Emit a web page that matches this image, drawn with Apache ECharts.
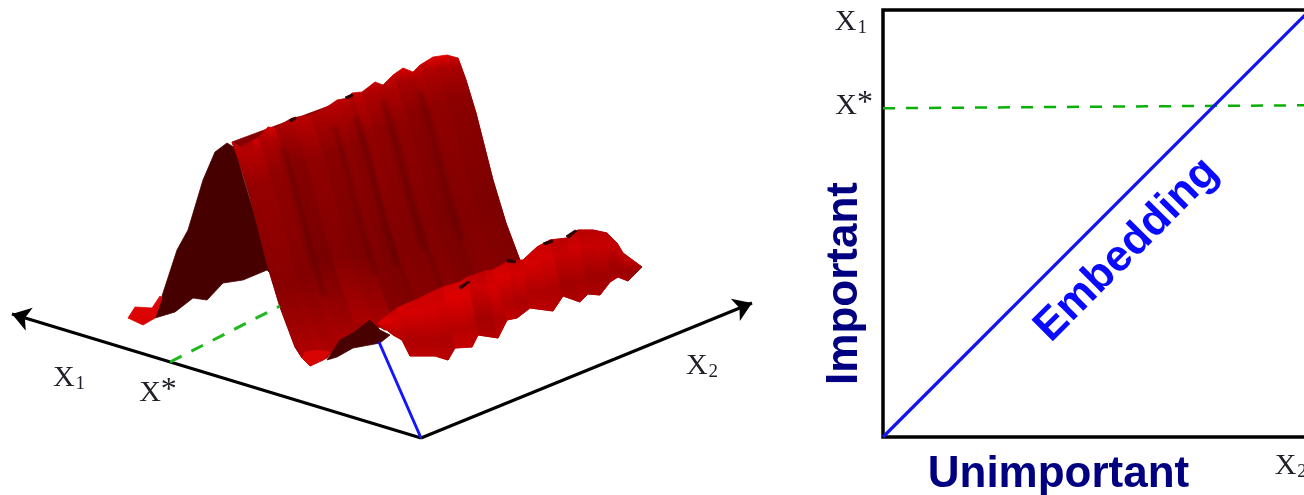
<!DOCTYPE html>
<html><head><meta charset="utf-8">
<style>html,body{margin:0;padding:0;background:#fff;overflow:hidden}#c{width:1304px;height:495px;filter:blur(0.55px)}</style>
<script src="https://cdn.jsdelivr.net/npm/echarts@6/dist/echarts.min.js"></script>
</head><body><div id="c"></div>
<script>
// Right panel values (unit square)
const embedding = [[0, 0], [1, 1]];
const xStarLevel = [[0, 0.77], [1, 0.777]];
const yTickValues = [0.775, 0.972];
const yTickLabels = ['{x|X}{sup|*}', '{x|X}{subr|1}'];
const xTickValues = [0.955];
const xTickLabels = ['{x|X}{sub|2}'];
const embeddingAnchor = [[0.571, 0.438]];
// Left panel, values
const axisX1 = [[421, 438], [12, 314]];
const axisX2 = [[421, 438], [752, 303]];
const blueDrop = [[421, 438], [379, 342]];
const greenDrop = [[170, 362], [280, 306]];
const floorLabels = [[69, 378, '{x|X}{sub|1}'], [158, 393, '{x|X}{sup|*}'], [702, 366, '{x|X}{sub|2}']];
// Ridge: crest line, rib profile below the crest, rib foot, brightness
const crest = [[232,142],[240,147],[252,141],[258,138],[268,127],[275,128],[292,118],[310,115],[327,107],[337,100],[348,98],[352,93],[362,92],[375,82],[383,85],[393,75],[403,68],[413,72],[420,65],[433,57],[447,55],[458,58]];
const ribProfile = [[0,0],[8,22],[18,55],[35,122],[48,165],[63,205]];
const ribFoot = [[302,358],[310,366],[323,360],[327,358],[340,342],[353,335],[370,322],[385,330],[400,330],[412,325],[423,323],[427,318],[437,317],[450,307],[458,310],[468,300],[478,293],[488,297],[495,290],[508,282],[515,280],[523,270]];
const ribShade = [140,142,142,136,134,126,136,130,134,130,126,136,134,125,135,130,126,134,136,132,130];
const ribGlow = [60,30,70,70,90,60,50,50,60,60,60,60,60,70,70,90,90,80,90,100,80];
const foldRibs = [5,8,10,13,17];
// Ridge end face and low shelf
const endFace = [[227,143],[215,152],[203,180],[188,230],[177,250],[163,293],[155,318],[175,312],[193,298],[207,300],[223,283],[243,280],[267,270],[270,273],[253,210],[243,177],[235,148]];
const endTip = [[128,318],[135,307],[152,308],[160,296],[162,298],[155,318],[143,325]];
const footTip = [[302,358],[310,366],[323,360],[330,352],[318,350],[305,352]];
const underside = [[327,360],[340,340],[353,333],[370,320],[380,330],[390,335],[380,343],[353,348],[337,357]];
const shelfBack = [[378,323],[388,315],[397,308],[420,298],[432,292],[443,287],[460,282],[468,277],[485,271],[493,270],[507,262],[523,260],[537,247],[550,240],[567,238],[578,230],[593,230],[607,233],[617,243],[623,253],[642,267]];
const shelfFront = [[393,335],[402,340],[410,356],[435,356],[448,360],[455,348],[472,347],[478,335],[498,338],[507,320],[517,318],[530,308],[553,311],[563,296],[580,302],[588,294],[600,295],[610,282],[618,277],[628,281],[642,267]];
const shelfShade = [200,190,192,192,190,200,198,182,192,196,190,192,190,178,184,176,178,176,174,170];
const specks = [[[459,287],[468,281],[470,282],[461,289]],[[507,259],[516,261],[515,263],[507,262]],[[543,243],[552,240],[553,242],[545,245]],[[566,236],[575,230],[577,231],[569,238]],[[289,120],[296,117],[296,119],[291,122]],[[345,97],[352,94],[353,96],[347,99]]];

const faces = [];
function rib(i){ return ribProfile.map(p=>[crest[i][0]+p[0],crest[i][1]+p[1]]).concat([ribFoot[i]]); }
const hex = v => 'rgb('+Math.max(0,Math.min(235,Math.round(v)))+',0,0)';
const grad = stops => ({type:'linear',x:0,y:0,x2:0,y2:1,colorStops:stops.map(c=>({offset:c[0],color:c[1]}))});
faces.push({p:rib(0).concat(rib(crest.length-1).reverse()),f:'#840000'});
faces.push({p:endFace,f:'#470000'});
faces.push({p:endTip,f:grad([[0,'#e00808'],[1,'#d80000']])});
for(let i=0;i<crest.length-1;i++){
  const s=ribShade[i];
  faces.push({p:rib(i).concat(rib(i+1).reverse()),f:grad([[0,hex(s+ribGlow[i])],[0.06,hex(s+38)],[0.2,hex(s+8)],[0.65,hex(s-5)],[1,hex(s+(i<8?40:0))]])});
}
foldRibs.forEach(i=>{
  const line=rib(i).slice(1,5);
  [[10,0.05],[6,0.07],[3,0.08]].forEach(w=>faces.push({l:line,w:w[0],a:w[1]}));
});
faces.push({p:footTip,f:'#d80404'});
faces.push({p:underside,f:'#480000'});
faces.push({p:shelfBack.concat(shelfFront.slice().reverse()),f:'#b80000'});
for(let i=0;i<shelfBack.length-1;i++){
  const s=shelfShade[i];
  faces.push({p:[shelfBack[i],shelfBack[i+1],shelfFront[i+1],shelfFront[i]],f:grad([[0,hex(s+8)],[0.25,hex(s+22)],[0.7,hex(s-18)],[1,hex(s-4)]])});
}
specks.forEach(p=>faces.push({p:p,f:'#2a0000'}));

const rich={x:{fontFamily:'Liberation Serif',fontSize:30,color:'#20202a'},
  sub:{fontFamily:'Liberation Serif',fontSize:19,color:'#20202a',verticalAlign:'bottom',padding:[12,0,0,1]},
  subr:{fontFamily:'Liberation Serif',fontSize:19,color:'#20202a',verticalAlign:'bottom',padding:[12,6,0,1]},
  sup:{fontFamily:'Liberation Serif',fontSize:32,color:'#20202a',verticalAlign:'top',padding:[0,0,4,0]}};

const chart=echarts.init(document.getElementById('c'),null,{renderer:'canvas'});
chart.setOption({
  animation:false,backgroundColor:'#fff',
  grid:[{left:0,top:0,width:800,height:495,show:false,outerBoundsMode:'none'},
        {left:883,top:10,width:427,height:427,show:true,borderColor:'#000',borderWidth:3.5,backgroundColor:'transparent',outerBoundsMode:'none'}],
  xAxis:[{gridIndex:0,type:'value',min:0,max:800,show:false},
    {gridIndex:1,type:'value',min:0,max:1,position:'bottom',name:'Unimportant',nameLocation:'middle',nameGap:38,nameMoveOverlap:false,
     nameTextStyle:{fontFamily:'Liberation Sans',fontWeight:'bold',fontSize:44,color:'#000080',padding:[0,76,0,0],verticalAlign:'middle',lineHeight:44},
     axisLine:{show:false},axisTick:{show:false},splitLine:{show:false},
     axisLabel:{customValues:xTickValues,margin:14,formatter:v=>xTickLabels[xTickValues.indexOf(v)],rich,hideOverlap:false}}],
  yAxis:[{gridIndex:0,type:'value',min:0,max:495,inverse:true,show:false},
    {gridIndex:1,type:'value',min:0,max:1,name:'Important',nameLocation:'middle',nameGap:38,nameRotate:90,nameMoveOverlap:false,
     nameTextStyle:{fontFamily:'Liberation Sans',fontWeight:'bold',fontSize:44,color:'#000080',padding:[0,120,0,0],verticalAlign:'middle',lineHeight:44},
     axisLine:{show:false},axisTick:{show:false},splitLine:{show:false},
     axisLabel:{customValues:yTickValues,margin:10,formatter:v=>yTickLabels[yTickValues.indexOf(v)],rich,hideOverlap:false}}],
  series:[
    {type:'lines',coordinateSystem:'cartesian2d',xAxisIndex:0,yAxisIndex:0,polyline:false,silent:true,
     symbol:['none','arrow'],symbolSize:18,
     lineStyle:{color:'#000',width:3,opacity:1,curveness:0},
     data:[{coords:axisX1},{coords:axisX2}]},
    {type:'line',xAxisIndex:0,yAxisIndex:0,data:blueDrop,showSymbol:false,lineStyle:{color:'#1414ff',width:3}},
    {type:'line',xAxisIndex:0,yAxisIndex:0,data:greenDrop,showSymbol:false,lineStyle:{color:'#20b820',width:3,type:[13,11]}},
    {type:'custom',xAxisIndex:0,yAxisIndex:0,clip:false,silent:true,data:faces.map((f,i)=>[i]),
     encode:{x:-1,y:-1},
     renderItem:(params,api)=>{
       const f=faces[params.dataIndex];
       if(f.l) return {type:'polyline',shape:{points:f.l.map(p=>api.coord(p))},style:{fill:null,stroke:'rgba(60,0,0,'+f.a+')',lineWidth:f.w,lineCap:'round',lineJoin:'round'}};
       return {type:'polygon',shape:{points:f.p.map(p=>api.coord(p))},style:{fill:f.f,stroke:f.f,lineWidth:0.8,lineJoin:'round'}};
     }},
    {type:'scatter',xAxisIndex:0,yAxisIndex:0,symbolSize:1,itemStyle:{color:'transparent',opacity:1},silent:true,
     data:floorLabels.map(d=>({value:[d[0],d[1]],label:{formatter:d[2]}})),
     label:{show:true,position:'inside',rich}},
    {type:'line',xAxisIndex:1,yAxisIndex:1,data:xStarLevel,showSymbol:false,lineStyle:{color:'#08b008',width:2.5,type:[12,11]}},
    {type:'line',xAxisIndex:1,yAxisIndex:1,data:embedding,showSymbol:false,clip:false,lineStyle:{color:'#1414f0',width:3.2}},
    {type:'scatter',xAxisIndex:1,yAxisIndex:1,symbolSize:1,itemStyle:{color:'transparent',opacity:1},silent:true,data:embeddingAnchor,
     label:{show:true,position:'inside',rotate:45,formatter:'Embedding',fontFamily:'Liberation Sans',fontWeight:'bold',fontSize:44,color:'#0a0aff'}}
  ]
});
</script></body></html>
